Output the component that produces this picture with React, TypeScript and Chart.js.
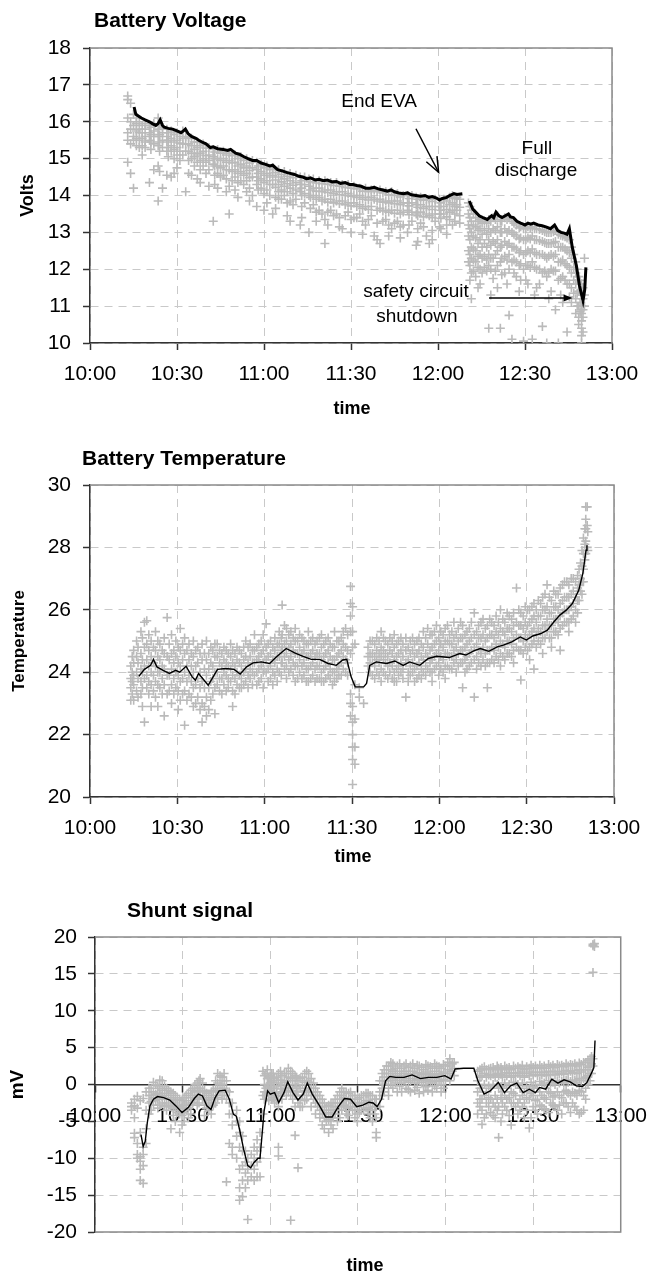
import { useEffect, useRef } from "react";
import { Chart, registerables } from "chart.js";

Chart.register(...registerables);

const FONT = '"Liberation Sans", Arial, Helvetica, sans-serif';

// x axis: minutes after 10:00
const timeLabels = ["10:00", "10:30", "11:00", "11:30", "12:00", "12:30", "13:00"];

// ---------- Battery voltage ----------
const voltLineT = [15.2, 15.8, 16.8, 17.7, 19, 20.5, 21.5, 22.7, 23.5, 24.2, 25, 25.6, 27, 28.5, 30, 31.4, 32.2, 32.9, 33.8, 35, 36.5, 37.5, 38.6, 40, 41.5, 42.5, 44, 45.9, 47.5, 48.5, 50.2, 51.5, 53.1, 54.5, 56, 57.5, 59, 60.3, 62, 63, 64.7, 66.5, 68, 69, 70.5, 72, 73.4, 74.8, 76, 77.7, 79, 80.5, 81.9, 83.5, 85, 86.4, 88, 89.5, 90.7, 92, 93.5, 95, 96.5, 98, 99.4, 101, 102.5, 103.8, 105, 106.5, 108.1, 109.5, 110.8, 112.4, 114, 115.5, 116.8, 118, 119.5, 120.5, 121.5, 123, 124, 125.5, 126.5, 128.4, 129.5, 130.8, 132, 133, 134.2, 135.5, 137, 138, 138.5, 139.2, 140, 141, 142.1, 143.2, 144.3, 145, 146, 147.2, 148.5, 150, 151, 152, 153, 154.5, 155.9, 157.2, 158.8, 159.5, 160.2, 161.3, 162.4, 163.5, 164.5, 165.3, 166.3, 167.7, 168.8, 170, 170.6, 171];
const voltLineV = [16.4, 16.2, 16.15, 16.1, 16.05, 16.0, 15.95, 15.9, 15.95, 16.05, 15.9, 15.85, 15.82, 15.8, 15.75, 15.7, 15.75, 15.8, 15.68, 15.6, 15.55, 15.5, 15.45, 15.4, 15.3, 15.32, 15.27, 15.25, 15.22, 15.25, 15.15, 15.12, 15.05, 15.0, 14.95, 14.95, 14.88, 14.85, 14.8, 14.82, 14.7, 14.66, 14.62, 14.6, 14.57, 14.52, 14.5, 14.45, 14.48, 14.42, 14.44, 14.4, 14.42, 14.37, 14.38, 14.33, 14.35, 14.3, 14.3, 14.27, 14.25, 14.2, 14.2, 14.22, 14.18, 14.15, 14.12, 14.15, 14.1, 14.07, 14.05, 14.07, 14.02, 14.0, 13.98, 14.0, 13.95, 13.97, 13.93, 13.88, 13.92, 13.95, 14.0, 14.05, 14.03, 14.05, null, 13.85, 13.63, 13.55, 13.45, 13.4, 13.35, 13.42, 13.45, 13.4, 13.55, 13.45, 13.4, 13.45, 13.5, 13.42, 13.4, 13.3, 13.25, 13.2, 13.25, 13.22, 13.25, 13.2, 13.18, 13.15, 13.1, 13.15, 13.2, 13.05, 13.0, 12.98, 12.95, 13.1, 12.6, 12.1, 11.55, 11.15, 11.45, 12.05];
// rows: [minute, readings...]
const voltCloud: number[][] = [
  [13, 16.7, 16.6, 16.1, 15.7, 15.5, 14.9], [14, 16.5, 16.0, 15.8, 15.4, 14.6], [15, 16.2, 15.9, 15.6, 15.5, 14.2],
  [17, 16.0, 15.8, 15.7, 15.5, 15.3], [19, 15.95, 15.8, 15.6, 15.45, 15.3], [20.5, 15.9, 15.7, 15.5, 14.35],
  [22, 15.95, 15.75, 15.6, 15.4, 14.7], [23.5, 16.1, 15.8, 15.6, 15.35, 14.8, 13.85], [25, 15.85, 15.7, 15.5, 15.3, 14.2],
  [26.5, 15.8, 15.6, 15.45, 15.2, 14.55], [28, 15.75, 15.55, 15.35, 15.2, 14.5], [30, 15.7, 15.5, 15.3, 15.1, 14.75],
  [32, 15.75, 15.55, 15.4, 15.1], [33, 15.6, 15.4, 15.2, 14.1], [35, 15.55, 15.35, 15.15, 15.0, 14.55],
  [37, 15.45, 15.3, 15.1, 14.9, 14.45], [39, 15.4, 15.2, 15.0, 14.8], [41, 15.3, 15.1, 14.95, 14.7, 14.25],
  [42.5, 15.25, 15.05, 14.85, 13.3], [44, 15.25, 15.0, 14.8, 14.6, 14.2], [46, 15.2, 15.0, 14.8, 14.55],
  [48, 15.15, 14.95, 14.7, 14.25, 13.5], [50, 15.1, 14.9, 14.7, 14.5, 14.15], [52, 15.05, 14.85, 14.65, 14.4],
  [54, 15.0, 14.8, 14.6, 14.4, 14.1], [56, 14.95, 14.75, 14.5, 14.0], [57.5, 14.9, 14.7, 14.5, 14.3, 13.7],
  [59, 14.85, 14.65, 14.45, 14.2], [61, 14.8, 14.6, 14.4, 14.15, 13.8], [63, 14.75, 14.55, 14.3, 13.5],
  [65, 14.7, 14.5, 14.3, 14.1, 13.9], [67, 14.65, 14.45, 14.25, 14.0], [69, 14.6, 14.4, 14.2, 13.85, 13.3],
  [71, 14.55, 14.35, 14.15, 13.9], [72.5, 14.5, 14.3, 14.1, 13.2], [74, 14.5, 14.3, 14.05, 13.8],
  [75.5, 14.45, 14.25, 14.0, 13.0], [77, 14.45, 14.2, 14.0, 13.75], [79, 14.4, 14.2, 13.95, 13.6],
  [81, 14.4, 14.15, 13.9, 13.35, 12.7], [83, 14.35, 14.15, 13.9, 13.6], [85, 14.35, 14.1, 13.85, 13.5],
  [87, 14.3, 14.1, 13.85, 13.1], [89, 14.3, 14.05, 13.8, 13.55], [91, 14.25, 14.0, 13.8, 13.4],
  [93, 14.2, 14.0, 13.75, 13.5], [95, 14.2, 13.95, 13.7, 13.2], [97, 14.15, 13.95, 13.7, 13.45],
  [98, 14.15, 13.9, 12.9], [100, 14.15, 13.9, 13.65, 12.7], [102, 14.1, 13.85, 13.6, 13.35],
  [104, 14.1, 13.85, 13.6, 13.1], [106, 14.05, 13.85, 13.6, 13.3], [108, 14.0, 13.8, 13.55, 13.2],
  [109.5, 14.0, 13.8, 13.6, 13.0], [111, 14.0, 13.8, 13.55, 13.3], [112.5, 13.95, 13.75, 13.5, 12.65],
  [114, 13.95, 13.75, 13.55, 13.25], [116, 13.9, 13.7, 13.5, 12.9], [117, 13.9, 13.7, 13.45, 12.7],
  [119, 13.9, 13.7, 13.5, 13.3], [120.5, 13.9, 13.7, 13.5, 13.15], [122, 13.9, 13.7, 13.5],
  [124, 13.95, 13.75, 13.55, 13.35], [125, 14.0, 13.8, 13.6, 13.2], [126.5, 13.95, 13.75, 13.6],
  [130.5, 13.8, 13.5, 13.2, 12.9, 12.5, 12.2], [131.5, 13.6, 13.3, 13.0, 12.6, 12.3, 11.9, 11.2],
  [133, 13.4, 13.15, 12.85, 12.5, 12.2, 11.8], [134.5, 13.35, 13.1, 12.8, 12.4, 12.0, 11.6],
  [136, 13.3, 13.05, 12.7, 12.35, 12.05], [137.5, 13.35, 13.1, 12.8, 12.4, 12.1, 10.4],
  [139, 13.4, 13.1, 12.75, 12.3, 11.75], [140.5, 13.45, 13.15, 12.8, 12.5, 12.1, 11.5],
  [141.5, 13.3, 13.0, 12.6, 12.2, 10.4], [143, 13.4, 13.1, 12.75, 12.35, 11.9],
  [144.5, 13.4, 13.05, 12.7, 12.4, 12.0, 10.75], [145.5, 13.3, 13.0, 12.6, 12.2, 10.1],
  [147, 13.2, 12.9, 12.55, 12.2, 11.8], [148.5, 13.15, 12.85, 12.5, 12.15, 11.7],
  [149.5, 13.1, 12.8, 12.4, 12.0, 10.05], [151, 13.15, 12.85, 12.5, 12.1, 11.6],
  [152.5, 13.15, 12.9, 12.55, 12.2, 10.1], [154, 13.1, 12.8, 12.4, 12.0, 11.5],
  [156, 13.05, 12.75, 12.4, 11.9, 10.45], [157.5, 13.0, 12.7, 12.3, 11.8, 10.0],
  [159, 13.0, 12.7, 12.4, 12.0, 11.4], [160.5, 13.05, 12.75, 12.4, 11.95, 10.9],
  [161.5, 12.95, 12.6, 12.2, 11.7, 10.0], [163, 12.9, 12.6, 12.25, 11.8, 11.1],
  [164.5, 12.85, 12.5, 12.1, 11.6, 10.3], [166, 12.6, 12.3, 11.9, 11.5, 11.1],
  [167.5, 12.2, 11.9, 11.6, 11.2, 10.8], [168.5, 11.8, 11.4, 11.0, 10.7, 10.5],
  [169.5, 11.6, 11.3, 11.0, 10.8, 10.6, 10.4, 10.2, 10.0], [170.5, 12.3, 11.3, 11.0],
];
const voltCloudFill: number[][] = [
  [16, 16.1, 15.95, 15.75, 15.55, 15.35], [18, 15.9, 15.7, 15.55, 15.35, 15.1], [21, 15.85, 15.65, 15.45, 15.25],
  [24, 15.9, 15.65, 15.45, 15.2, 14.65], [27, 15.7, 15.5, 15.3, 15.05], [29, 15.65, 15.45, 15.25, 15.0, 14.6],
  [31, 15.6, 15.42, 15.2, 14.95], [34, 15.58, 15.4, 15.2, 14.95, 14.6], [36, 15.45, 15.25, 15.05, 14.8],
  [38, 15.35, 15.15, 14.95, 14.7, 14.35], [40, 15.28, 15.08, 14.9, 14.6], [43, 15.18, 15.0, 14.8, 14.55, 14.3],
  [45, 15.15, 14.95, 14.75, 14.5], [47, 15.1, 14.9, 14.7, 14.45, 14.1], [49, 15.08, 14.88, 14.65, 14.4],
  [51, 15.0, 14.8, 14.6, 14.35, 13.95], [53, 14.95, 14.75, 14.55, 14.3], [55, 14.88, 14.68, 14.48, 14.2, 13.85],
  [58, 14.8, 14.6, 14.4, 14.15], [60, 14.75, 14.55, 14.35, 14.05, 13.6], [62, 14.7, 14.5, 14.3, 14.0],
  [64, 14.62, 14.42, 14.22, 13.95, 13.65], [66, 14.57, 14.37, 14.15, 13.9], [68, 14.52, 14.32, 14.1, 13.8, 13.45],
  [70, 14.48, 14.28, 14.05, 13.75], [73, 14.4, 14.2, 14.0, 13.7, 13.4], [76, 14.37, 14.15, 13.95, 13.65],
  [78, 14.34, 14.12, 13.9, 13.55, 13.3], [80, 14.32, 14.1, 13.85, 13.5], [82, 14.3, 14.08, 13.82, 13.55, 13.2],
  [84, 14.27, 14.05, 13.8, 13.45], [86, 14.25, 14.02, 13.78, 13.4, 13.15], [88, 14.22, 14.0, 13.75, 13.45],
  [90, 14.2, 13.98, 13.72, 13.35, 13.0], [92, 14.18, 13.95, 13.7, 13.4], [94, 14.12, 13.9, 13.65, 13.3, 12.95],
  [96, 14.1, 13.88, 13.62, 13.35], [99, 14.1, 13.85, 13.6, 13.25, 12.8], [101, 14.07, 13.82, 13.58, 13.3],
  [103, 14.02, 13.8, 13.55, 13.2, 12.9], [105, 14.0, 13.78, 13.52, 13.25], [107, 13.96, 13.75, 13.5, 13.15, 12.85],
  [110, 13.92, 13.72, 13.48, 13.2], [113, 13.9, 13.68, 13.45, 13.1, 12.75], [115, 13.87, 13.65, 13.42, 13.15],
  [118, 13.84, 13.62, 13.4, 13.05, 12.8], [121, 13.8, 13.6, 13.38, 13.1], [123, 13.85, 13.62, 13.42, 13.2, 12.95],
  [125.8, 13.92, 13.7, 13.5, 13.3], [127.5, 13.9, 13.68, 13.45, 13.25],
  [131, 13.7, 13.4, 13.1, 12.8, 12.4, 12.1, 11.7], [132.2, 13.5, 13.2, 12.9, 12.55, 12.25, 11.95],
  [133.8, 13.3, 13.05, 12.7, 12.35, 12.05, 11.5], [135.2, 13.25, 12.95, 12.6, 12.3, 11.9],
  [136.8, 13.25, 12.95, 12.6, 12.25, 11.95], [138.2, 13.3, 13.0, 12.65, 12.3, 12.0, 11.3],
  [139.8, 13.35, 13.05, 12.7, 12.4, 11.95], [142, 13.3, 13.0, 12.65, 12.3, 11.85],
  [143.8, 13.35, 13.0, 12.65, 12.25, 11.6], [146.2, 13.25, 12.95, 12.6, 12.25, 11.9],
  [148, 13.12, 12.82, 12.45, 12.1, 11.4], [150.3, 13.1, 12.8, 12.45, 12.1, 11.7],
  [151.8, 13.12, 12.82, 12.45, 12.05], [153.3, 13.1, 12.8, 12.45, 12.05, 11.3],
  [155, 13.08, 12.78, 12.4, 12.0, 11.6], [156.8, 13.02, 12.72, 12.35, 11.95],
  [158.2, 13.0, 12.7, 12.35, 11.9, 11.2], [159.8, 13.02, 12.72, 12.35, 11.95],
  [162.3, 12.92, 12.6, 12.2, 11.75, 11.3], [163.8, 12.88, 12.55, 12.15, 11.7],
  [165.3, 12.8, 12.45, 12.05, 11.6, 11.25], [166.8, 12.4, 12.05, 11.7, 11.35],
  [168, 12.0, 11.7, 11.35, 11.0], [169, 11.7, 11.4, 11.1, 10.85], [170, 11.5, 11.2, 10.9, 10.7, 10.3],
];

// ---------- Battery temperature ----------
const tempLineT = [16.8, 18.7, 20.8, 21.8, 23, 25.1, 27.3, 29.4, 30.8, 33, 35.1, 36.2, 37.3, 38.7, 40.6, 42.3, 43.8, 46.6, 49.5, 51.6, 53.8, 56, 58.8, 61.7, 63.8, 66, 67.4, 70.3, 73.2, 76, 78.9, 81.8, 84.6, 86.8, 88.2, 89.7, 91.1, 94, 95, 96.1, 98.3, 101.9, 104.7, 107.6, 109.8, 113.3, 116.2, 119.1, 123.4, 127, 129.1, 132, 134.1, 137, 139.9, 142, 144.9, 147.8, 149.9, 152.1, 154.9, 157.1, 159.3, 161.4, 163.6, 165.7, 167.9, 169.3, 170.4, 170.7];
const tempLineV = [23.87, 24.09, 24.22, 24.41, 24.17, 24.06, 23.96, 24.06, 24.0, 24.19, 23.85, 23.74, 23.96, 23.8, 23.58, 23.85, 24.09, 24.12, 24.09, 23.94, 24.17, 24.3, 24.33, 24.28, 24.47, 24.65, 24.76, 24.62, 24.51, 24.41, 24.41, 24.28, 24.22, 24.39, 24.41, 23.85, 23.53, 23.53, 23.64, 24.22, 24.33, 24.28, 24.36, 24.22, 24.33, 24.22, 24.44, 24.51, 24.47, 24.6, 24.55, 24.69, 24.76, 24.67, 24.81, 24.87, 24.97, 25.13, 25.03, 25.16, 25.24, 25.35, 25.61, 25.83, 25.99, 26.2, 26.63, 27.17, 27.91, 28.07];
const tempCloud: number[][] = [
  [14, 24.2, 23.8, 23.5, 23.1], [15, 24.7, 24.3, 23.9, 23.6, 23.1], [16, 25.0, 24.5, 24.0, 23.4],
  [17.5, 25.3, 24.6, 24.1, 23.7, 23.3], [18.7, 25.6, 24.8, 24.2, 23.8, 22.4], [19.5, 25.65, 24.9, 24.4, 23.9, 23.5],
  [21, 25.0, 24.5, 24.0, 23.6, 22.9], [22.5, 25.3, 24.7, 24.2, 23.7, 23.2], [24, 24.9, 24.4, 24.0, 23.5],
  [25.5, 25.1, 24.6, 24.1, 23.6, 22.6], [26.5, 25.75, 24.5, 23.9, 23.3], [28, 25.2, 24.6, 24.1, 23.6, 23.0],
  [29.5, 25.0, 24.5, 24.0, 23.5], [31, 25.4, 24.7, 24.2, 23.7, 23.1], [32.5, 25.1, 24.6, 24.0, 23.4, 22.3],
  [34, 24.9, 24.4, 23.9, 23.3], [35.5, 25.0, 24.5, 24.0, 23.5, 22.9], [37, 24.8, 24.3, 23.8, 23.2],
  [38.5, 24.9, 24.4, 23.7, 23.0, 22.4], [40, 25.0, 24.4, 23.9, 23.2, 22.6], [41.5, 24.8, 24.3, 23.7, 23.1],
  [42.9, 24.9, 24.5, 24.0, 23.5, 22.67], [44.5, 24.7, 24.3, 23.8, 23.4], [46, 24.8, 24.4, 24.0, 23.6],
  [47.5, 24.6, 24.2, 23.8, 23.5], [49, 24.7, 24.3, 23.9, 23.4, 22.9], [50.5, 24.8, 24.4, 24.0, 23.6],
  [52, 24.6, 24.2, 23.8, 23.5], [53.5, 25.0, 24.5, 24.1, 23.7], [55, 24.9, 24.5, 24.1, 23.8],
  [56.5, 25.2, 24.7, 24.3, 23.9], [58, 24.9, 24.5, 24.1, 23.7], [59.5, 25.2, 24.7, 24.3, 24.0, 23.5],
  [60.5, 25.55, 24.8, 24.4, 24.0], [62, 25.0, 24.6, 24.2, 23.8], [63.5, 25.1, 24.7, 24.3, 23.9],
  [65, 25.3, 24.9, 24.5, 24.0], [66, 26.15, 25.2, 24.8, 24.3], [67.5, 25.4, 25.0, 24.6, 24.2, 23.8],
  [69, 25.3, 24.9, 24.5, 24.1], [70.5, 25.4, 25.0, 24.6, 24.2, 23.7], [72, 25.2, 24.8, 24.4, 24.0],
  [73.5, 25.0, 24.7, 24.3, 23.9], [75, 25.3, 24.9, 24.5, 24.1, 23.7], [76.5, 25.1, 24.7, 24.3, 23.9],
  [78, 25.0, 24.6, 24.2, 23.8], [79.5, 25.2, 24.8, 24.4, 24.0, 23.7], [81, 25.0, 24.6, 24.2, 23.8],
  [82.5, 24.9, 24.5, 24.1, 23.8], [84, 25.3, 24.8, 24.4, 24.0, 23.7], [85.5, 25.0, 24.6, 24.2, 23.9],
  [87, 25.3, 24.9, 24.5, 24.1], [88.5, 25.2, 24.7, 24.3, 23.9],
  [89.5, 26.75, 26.2, 25.8, 25.3, 24.6, 23.3, 23.0, 22.6], [90.2, 26.1, 25.3, 24.8, 22.9, 22.4, 22.0, 21.6, 21.2, 20.4],
  [91, 24.9, 23.6, 22.5, 21.6, 21.05], [92.5, 23.5, 23.2], [94, 23.0],
  [95.5, 24.8, 24.5, 24.2], [97, 25.0, 24.6, 24.3, 23.9], [98.5, 25.1, 24.7, 24.4, 24.0],
  [100, 25.3, 24.8, 24.5, 24.1, 23.7], [101.5, 25.0, 24.6, 24.3, 23.9], [103, 25.1, 24.7, 24.3, 24.0],
  [104.5, 25.2, 24.8, 24.4, 24.0, 23.7], [106, 25.0, 24.6, 24.2, 23.9], [107.5, 24.9, 24.5, 24.1, 23.8],
  [108.5, 25.1, 24.7, 24.3, 23.2], [110, 25.0, 24.6, 24.2, 23.9], [111.5, 24.9, 24.5, 24.1, 23.7],
  [113, 25.1, 24.7, 24.3, 23.9], [114.5, 25.3, 24.8, 24.4, 24.0], [116, 25.4, 24.9, 24.5, 24.1],
  [117.5, 25.2, 24.8, 24.4, 24.0, 23.7], [119, 25.5, 25.0, 24.6, 24.2], [120.5, 25.3, 24.9, 24.5, 24.1],
  [122, 25.4, 25.0, 24.6, 24.2, 23.8], [123.5, 25.2, 24.9, 24.5, 24.1], [125, 25.6, 25.1, 24.7, 24.3],
  [126.5, 25.4, 25.0, 24.6, 24.2], [128, 25.5, 25.1, 24.7, 24.3, 23.5], [129.5, 25.3, 24.9, 24.5, 24.1],
  [131, 25.6, 25.1, 24.7, 24.3], [132, 25.9, 25.2, 24.8, 24.4, 23.2], [133.5, 25.5, 25.1, 24.7, 24.3],
  [135, 25.7, 25.2, 24.8, 24.4], [136.5, 25.5, 25.1, 24.7, 24.3, 23.5], [138, 25.6, 25.2, 24.8, 24.4],
  [139.5, 25.8, 25.3, 24.9, 24.5], [141, 26.0, 25.4, 25.0, 24.6, 24.2], [142.5, 25.6, 25.2, 24.8, 24.4],
  [144, 25.8, 25.4, 25.0, 24.6], [145.5, 25.9, 25.5, 25.1, 24.7, 24.3], [146.5, 26.7, 25.6, 25.2, 24.8],
  [148, 25.9, 25.5, 25.1, 24.7, 23.75], [149.5, 26.1, 25.6, 25.2, 24.8], [151, 26.0, 25.6, 25.2, 24.8, 24.4],
  [152.5, 26.2, 25.8, 25.4, 25.0, 24.1], [154, 26.3, 25.8, 25.4, 25.0], [155.5, 26.4, 26.0, 25.5, 25.1, 24.6],
  [157, 26.8, 26.1, 25.7, 25.3], [158.5, 26.3, 25.9, 25.5, 25.1, 24.8], [160, 26.5, 26.1, 25.7, 25.3],
  [161.5, 26.7, 26.2, 25.8, 25.4, 24.7], [163, 26.9, 26.4, 26.0, 25.6], [164.5, 26.8, 26.4, 26.0, 25.6, 25.3],
  [166, 27.0, 26.6, 26.2, 25.8], [167.5, 27.1, 26.7, 26.3, 25.9], [168.5, 27.5, 27.0, 26.6],
  [169.5, 28.3, 27.8, 27.3, 26.9], [170.3, 29.3, 28.9, 28.6, 28.2, 27.8], [170.8, 29.3, 28.7, 28.0],
];
const tempCloudFill: number[][] = [
  [14.5, 24.5, 24.0, 23.7, 23.3], [16.5, 24.8, 24.3, 23.8, 23.2], [18, 25.1, 24.4, 24.0, 23.5, 22.9],
  [20.2, 25.2, 24.7, 24.2, 23.7, 23.3], [21.8, 24.8, 24.3, 23.9, 23.4], [23.3, 25.0, 24.5, 24.0, 23.6, 22.9],
  [24.8, 24.7, 24.2, 23.8, 23.3], [27.2, 24.9, 24.4, 23.9, 23.4], [28.8, 24.7, 24.3, 23.8, 23.3],
  [30.3, 24.8, 24.3, 23.9, 23.4, 22.8], [31.8, 24.9, 24.4, 23.8, 23.3], [33.3, 24.7, 24.2, 23.7, 23.1],
  [34.8, 24.6, 24.2, 23.7, 23.2], [36.3, 24.7, 24.2, 23.6, 23.0], [37.8, 24.6, 24.0, 23.5, 22.8],
  [39.3, 24.6, 24.1, 23.5, 22.9], [40.8, 24.6, 24.1, 23.5, 22.8], [42.2, 24.7, 24.2, 23.8, 23.3],
  [43.7, 24.9, 24.5, 24.0, 23.6], [45.3, 24.6, 24.2, 23.8, 23.3], [46.8, 24.7, 24.3, 23.9, 23.4],
  [48.3, 24.9, 24.5, 24.1, 23.7], [49.8, 24.6, 24.2, 23.8, 23.3], [51.3, 24.7, 24.3, 23.9, 23.5],
  [52.8, 24.8, 24.4, 24.0, 23.6], [54.3, 24.8, 24.3, 23.9, 23.5], [55.8, 24.7, 24.3, 24.0, 23.6],
  [57.3, 24.8, 24.4, 24.0, 23.6], [58.8, 25.0, 24.6, 24.2, 23.8], [61.2, 24.9, 24.5, 24.1, 23.7],
  [62.8, 24.8, 24.4, 24.0, 23.6], [64.3, 24.9, 24.5, 24.1, 23.7], [65.7, 25.1, 24.7, 24.3, 23.9],
  [66.8, 25.5, 24.9, 24.5, 24.1], [68.3, 25.2, 24.8, 24.4, 24.0], [69.8, 25.1, 24.7, 24.3, 23.9],
  [71.3, 25.0, 24.6, 24.2, 23.8], [72.8, 25.1, 24.6, 24.2, 23.8], [74.3, 24.9, 24.5, 24.1, 23.7],
  [75.8, 25.0, 24.6, 24.2, 23.8], [77.3, 24.9, 24.5, 24.1, 23.7], [78.8, 25.1, 24.6, 24.2, 23.8],
  [80.3, 24.9, 24.5, 24.1, 23.7], [81.8, 25.1, 24.7, 24.3, 23.9], [83.3, 24.8, 24.4, 24.0, 23.6],
  [84.8, 25.0, 24.5, 24.1, 23.8], [86.3, 25.1, 24.7, 24.3, 23.9], [87.8, 25.4, 24.8, 24.4, 24.0],
  [96.2, 25.0, 24.6, 24.3, 24.0], [97.8, 24.9, 24.5, 24.2, 23.8], [99.3, 25.0, 24.6, 24.3, 23.9],
  [100.8, 25.1, 24.7, 24.4, 24.0], [102.3, 24.9, 24.5, 24.2, 23.8], [103.8, 25.0, 24.6, 24.2, 23.8],
  [105.3, 24.9, 24.5, 24.1, 23.7], [106.8, 25.1, 24.7, 24.3, 24.0], [109.3, 24.8, 24.4, 24.0, 23.7],
  [110.8, 25.1, 24.7, 24.3, 24.0], [112.3, 25.0, 24.6, 24.2, 23.8], [113.8, 24.9, 24.5, 24.1, 23.8],
  [115.3, 25.1, 24.6, 24.2, 23.9], [116.8, 25.2, 24.7, 24.3, 24.0], [118.3, 25.3, 24.9, 24.5, 24.1],
  [119.8, 25.1, 24.7, 24.3, 23.9], [121.3, 25.2, 24.8, 24.4, 24.0], [122.8, 25.5, 25.0, 24.6, 24.2],
  [124.3, 25.3, 24.9, 24.5, 24.1], [125.8, 25.2, 24.8, 24.4, 24.0], [127.3, 25.6, 25.1, 24.7, 24.3],
  [128.8, 25.2, 24.8, 24.4, 24.0], [130.3, 25.4, 25.0, 24.6, 24.2], [132.8, 25.3, 24.9, 24.5, 24.1],
  [134.3, 25.6, 25.1, 24.6, 24.2], [135.8, 25.4, 25.0, 24.6, 24.2], [137.3, 25.7, 25.2, 24.7, 24.3],
  [138.8, 25.5, 25.1, 24.7, 24.3], [140.3, 25.6, 25.2, 24.8, 24.4], [141.8, 25.7, 25.3, 24.9, 24.5],
  [143.3, 25.9, 25.4, 25.0, 24.6], [144.8, 25.7, 25.3, 24.9, 24.5], [147.3, 26.0, 25.5, 25.1, 24.7],
  [148.8, 25.8, 25.4, 25.0, 24.6], [150.3, 26.0, 25.5, 25.1, 24.7], [151.8, 26.1, 25.7, 25.3, 24.9],
  [153.3, 26.0, 25.6, 25.2, 24.8], [154.8, 26.2, 25.8, 25.3, 24.9], [156.3, 26.5, 26.0, 25.5, 25.1],
  [157.8, 26.4, 25.9, 25.5, 25.1], [159.3, 26.6, 26.1, 25.7, 25.3], [160.8, 26.5, 26.0, 25.6, 25.2],
  [162.3, 26.8, 26.3, 25.9, 25.5], [163.8, 26.9, 26.4, 26.0, 25.6], [165.3, 27.0, 26.5, 26.1, 25.7],
  [166.8, 26.9, 26.4, 26.0, 25.6], [168, 27.3, 26.8, 26.3], [169, 27.9, 27.4, 26.9, 26.5],
  [170, 28.6, 28.1, 27.6], [171, 28.5, 27.9],
];

// ---------- Shunt signal ----------
const shuntLineT = [15.75, 16.5, 17.2, 17.9, 18.8, 20, 21.4, 23.5, 25.6, 27.7, 29.8, 32, 34, 35.4, 36.8, 38.3, 39.7, 41.1, 42.5, 44.6, 46, 47.4, 48.4, 49.5, 50.9, 52.3, 53.3, 54.4, 55.8, 56.5, 57.9, 59.1, 60, 61.5, 62.9, 64.7, 66, 67.8, 69.5, 71.3, 72.7, 74.4, 76.9, 79, 81.2, 83.3, 85.4, 87.5, 89.6, 91.7, 93.8, 95.2, 96.6, 98.1, 99.5, 100.9, 103, 105.8, 108.6, 111.4, 114.2, 117, 119.8, 121.9, 123.3, 126.2, 129.7, 131.1, 133.2, 135.3, 138.1, 140.2, 142.3, 144.4, 146.6, 148.7, 150.8, 152.2, 154.3, 156.4, 158.5, 160.6, 162.7, 164.8, 166.9, 168.4, 170.1, 170.8, 171.2];
const shuntLineV = [-6.79, -8.4, -7.7, -5.2, -2.9, -2.0, -1.64, -1.78, -2.1, -2.9, -3.8, -3.1, -1.9, -1.3, -1.55, -2.9, -3.4, -1.8, -0.87, -0.77, -2.0, -4.05, -4.3, -6.1, -8.8, -11.0, -11.3, -10.6, -10.0, -10.0, -3.6, -0.87, -1.3, -1.1, -2.45, -1.1, 0.36, -1.1, -2.1, -1.3, 0.18, -1.3, -2.9, -4.4, -4.4, -3.0, -1.9, -2.0, -3.0, -2.8, -2.4, -2.5, -3.0, -2.0, 0.5, 1.1, 0.96, 0.96, 1.3, 0.8, 0.96, 0.96, 1.2, 0.73, 2.1, 2.2, 2.2, 0.5, -1.3, -0.87, 0.27, -1.1, -0.18, 0.18, -1.1, -0.64, -1.1, -0.4, -0.64, 0.73, 0.18, 0.64, 0.36, -0.18, -0.27, 0.27, 1.64, 2.3, 5.97];
const shuntCloud: number[][] = [
  [12.5, -2.5, -3.0, -3.5], [13.5, -2.0, -2.9, -4.5, -6.6, -7.2], [14.5, -1.6, -3.2, -8.0, -9.5, -10.0],
  [15.5, -2.2, -6.5, -9.8, -10.4, -11.5, -13.0], [16.5, -1.9, -8.5, -9.5, -11.0, -13.4], [17.5, -1.0, -3.5, -6.0, -8.0],
  [18.5, -0.5, -1.5, -2.5, -4.0], [20, 0.3, -1.0, -1.8, -2.8], [21.5, -0.2, -1.2, -2.0, -3.2],
  [23, 0.5, -0.8, -1.6, -2.5], [24.5, -0.5, -1.5, -2.5, -3.5], [26, -1.0, -2.0, -3.0, -6.0],
  [27.5, -1.5, -2.5, -3.5, -5.0], [29, -2.0, -3.0, -4.0, -6.5], [30.5, -1.8, -2.8, -3.8, -5.0],
  [32, -1.2, -2.2, -3.2, -4.5], [33.5, -0.5, -1.5, -2.5], [35, 0.2, -0.8, -1.8, -2.8],
  [36, 0.8, -0.5, -1.5], [37.5, -0.8, -1.8, -2.8, -4.2], [39, -1.5, -2.5, -3.5],
  [40.5, -0.8, -1.8, -2.8], [42, 1.5, 0.2, -0.8, -1.8], [43.5, 1.0, 0.0, -1.0, -2.0],
  [45, 0.5, -0.8, -2.0, -13.2], [46, -1.0, -2.5, -4.0, -8.0], [47, -2.5, -4.0, -5.5, -8.5, -9.5],
  [48.5, -3.5, -5.0, -7.0, -10.0], [49.5, -5.0, -6.5, -8.5, -11.5, -14.0, -15.7], [50.5, -7.0, -9.0, -11.0, -13.0, -15.2],
  [51.5, -9.0, -10.5, -12.0, -14.0], [52.3, -10.0, -11.5, -13.0, -18.3], [53.5, -9.5, -11.0, -12.5],
  [54.5, -8.5, -10.0, -11.5, -13.0], [55.5, -7.5, -9.0, -10.5, -12.5], [56.5, -6.5, -8.5, -10.0, -12.5],
  [57.5, 1.8, -1.5, -4.0], [58.5, 1.5, -0.5, -1.5], [59.5, 1.0, 0.0, -1.2, -2.2],
  [60.5, 1.5, 0.3, -1.0, -2.0], [61.5, 0.8, -0.5, -1.5, -2.5], [62.8, 1.5, 0.2, -1.5, -3.0, -8.5, -9.7],
  [64, 1.2, 0.0, -1.0, -2.0], [65.5, 1.5, 0.5, -0.5, -1.5], [67, 1.8, 0.8, -0.5, -1.5, -18.4],
  [68.5, 1.2, 0.0, -1.5, -3.0, -6.9], [69.5, 0.5, -1.0, -2.5, -11.3], [71, 1.0, 0.0, -1.5, -3.0],
  [72.5, 1.8, 0.5, -1.0, -2.0], [74, 0.8, -0.5, -1.5, -3.0], [75.5, -0.5, -1.5, -2.5, -4.0],
  [77, -1.5, -2.5, -3.5, -4.5], [78.5, -2.5, -3.5, -4.5, -6.0], [80, -2.8, -3.8, -4.8, -6.5],
  [81.5, -2.5, -3.5, -4.5, -6.0], [83, -1.5, -2.5, -3.5, -5.0], [84.5, -0.5, -1.5, -2.5, -3.5],
  [86, -1.0, -2.0, -3.0, -4.0], [87.5, -1.0, -2.0, -3.0], [89, -1.5, -2.5, -3.5, -4.5],
  [90.5, -1.8, -2.8, -3.8], [92, -1.5, -2.5, -3.5], [93.5, -1.2, -2.2, -3.2, -4.0],
  [95, -1.5, -2.5, -3.5, -5.0], [96.3, -2.0, -3.0, -4.5, -6.5, -7.2], [97.5, 0.5, -1.0, -2.0, -3.0],
  [99, 2.0, 1.0, 0.0, -1.0], [100.5, 2.5, 1.5, 0.5, -0.5, -1.5], [102, 2.8, 1.8, 0.8, -0.5],
  [103.5, 2.5, 1.5, 0.5, -1.0], [105, 2.2, 1.2, 0.2, -1.0], [106.5, 2.8, 1.8, 0.8, -0.5],
  [108, 2.5, 1.5, 0.5, -1.0], [109.5, 2.2, 1.2, 0.2, -0.8], [111, 2.5, 1.5, 0.5, -1.2],
  [112.5, 2.0, 1.0, 0.0, -1.0], [114, 2.5, 1.5, 0.5, -0.8], [115.5, 2.2, 1.2, 0.2, -1.0],
  [117, 2.5, 1.5, 0.5, -0.5], [118.5, 2.2, 1.2, 0.0, -1.0], [120, 2.5, 1.5, 0.5],
  [121.5, 3.5, 2.5, 1.5, 0.5], [123, 3.0, 2.2, 1.2],
  [131, 1.8, 0.5, -1.0, -2.5, -4.0], [132.5, 2.2, 1.2, -0.5, -2.0, -3.5, -5.4], [134, 2.0, 1.0, -1.0, -2.5, -4.0],
  [135.5, 2.2, 1.2, -0.5, -2.0, -3.8], [137, 2.0, 1.0, -1.5, -3.0, -4.5], [138.2, 2.2, 1.2, -0.5, -3.0, -7.2],
  [139.5, 2.0, 1.0, -1.0, -2.5, -4.0], [141, 2.2, 1.2, -0.5, -2.0, -3.5], [142.5, 2.0, 1.0, -1.0, -2.5, -5.5],
  [144, 2.2, 1.2, 0.0, -1.5, -3.0], [145.5, 2.2, 1.2, -0.5, -2.0, -3.5], [147, 2.0, 1.0, -1.0, -2.5, -4.5],
  [148.7, 2.2, 1.2, -0.5, -2.0, -5.9], [150, 2.3, 1.3, -0.3, -1.5, -3.0], [151.5, 2.2, 1.2, -0.5, -2.0, -4.0],
  [153, 2.3, 1.3, 0.0, -1.5, -3.0], [154.5, 2.2, 1.2, -0.5, -2.0, -3.5], [156, 2.4, 1.4, 0.2, -1.2, -2.5],
  [157.5, 2.3, 1.3, 0.0, -1.5, -3.0], [159, 2.5, 1.5, 0.2, -1.5, -2.8], [160.5, 2.4, 1.4, 0.2, -1.0, -2.5],
  [162, 2.5, 1.5, 0.3, -1.2, -3.0], [163.5, 2.6, 1.6, 0.4, -1.0, -2.5], [165, 2.5, 1.5, 0.2, -1.5, -3.5],
  [166.5, 2.7, 1.7, 0.5, -1.0, -3.8], [168, 3.0, 2.0, 1.0, -0.5, -2.0], [169.5, 3.5, 2.5, 1.5, 0.5],
  [170.5, 19.0, 18.8, 15.2, 3.5, 2.5], [171, 19.1, 18.7],
];
const shuntCloudFill: number[][] = [
  [19.2, -0.5, -1.5, -2.3, -3.5], [20.8, 0.0, -1.3, -2.2], [22.2, 0.6, -0.5, -1.5, -2.8],
  [23.8, -0.2, -1.2, -2.0, -3.0], [25.2, -0.8, -1.8, -2.8], [26.8, -1.2, -2.2, -3.2, -4.2],
  [28.2, -1.8, -2.8, -3.8], [29.8, -2.2, -3.2, -4.2, -5.5], [31.2, -1.5, -2.5, -3.5],
  [32.8, -0.8, -1.8, -2.8, -4.0], [34.2, 0.0, -1.0, -2.0], [35.6, 0.5, -0.5, -1.5, -2.5],
  [36.8, 0.2, -1.0, -2.0], [38.2, -1.2, -2.2, -3.2], [39.8, -1.0, -2.0, -3.0, -4.0],
  [41.3, 0.5, -0.5, -1.5, -2.5], [42.8, 1.2, 0.0, -1.0], [44.2, 1.5, 0.5, -0.5, -1.5],
  [58, 1.2, 0.0, -1.0, -2.0], [59, 2.0, 0.8, -0.3], [60, 1.2, 0.2, -0.8],
  [61, 1.5, 0.5, -0.5, -1.8], [62.2, 1.0, -0.2, -1.2, -2.2], [63.5, 1.8, 0.6, -0.6, -1.6],
  [64.8, 1.5, 0.3, -0.8], [66.2, 2.2, 1.0, 0.0, -1.0], [67.7, 1.5, 0.5, -0.8, -2.0],
  [69, 1.0, -0.3, -1.5], [70.2, 0.8, -0.5, -2.0, -3.0], [71.8, 1.5, 0.3, -0.8, -2.2],
  [73.2, 1.5, 0.3, -1.0], [74.8, 0.2, -1.0, -2.0], [76.2, -1.0, -2.0, -3.0],
  [77.8, -2.0, -3.0, -4.0, -5.5], [79.2, -3.0, -4.0, -5.0], [80.8, -2.5, -3.5, -4.5, -5.5],
  [82.2, -2.0, -3.0, -4.0], [83.8, -1.0, -2.0, -3.0, -4.5], [85.2, -1.0, -1.8, -2.8],
  [86.8, -1.2, -2.2, -3.2, -4.2], [88.2, -1.5, -2.5, -3.5], [89.8, -2.0, -3.0, -4.0, -5.0],
  [91.2, -1.5, -2.5, -3.5], [92.8, -1.2, -2.2, -3.2], [94.2, -1.5, -2.5, -3.5, -4.5],
  [95.8, -2.0, -3.0, -4.0], [98.3, 1.5, 0.5, -0.5, -1.5],
  [99.8, 2.5, 1.5, 0.5], [101.3, 3.0, 2.0, 1.0, 0.0], [102.8, 2.2, 1.2, 0.2],
  [104.3, 2.8, 1.8, 0.8, -0.2], [105.8, 2.5, 1.5, 0.5], [107.3, 2.3, 1.3, 0.3, -0.7],
  [108.8, 2.8, 1.8, 0.8], [110.3, 2.6, 1.6, 0.6, -0.4], [111.8, 2.3, 1.3, 0.3],
  [113.3, 2.7, 1.7, 0.7, -0.3], [114.8, 2.4, 1.4, 0.4], [116.3, 2.8, 1.8, 0.8, -0.2],
  [117.8, 2.4, 1.4, 0.4], [119.3, 2.7, 1.7, 0.7, -0.5], [120.8, 3.0, 2.0, 1.0], [122.3, 2.8, 1.8],
  [131.8, 2.0, 1.0, -0.5, -2.0, -3.0], [133.3, 2.4, 1.5, 0.0, -1.5, -4.5], [134.8, 2.1, 1.3, -0.2, -1.8, -3.0],
  [136.3, 2.3, 1.4, 0.0, -2.5, -4.2], [137.7, 2.5, 1.5, 0.0, -2.0, -3.5], [139, 2.3, 1.4, -0.3, -1.8, -5.0],
  [140.3, 2.5, 1.6, 0.2, -1.5, -3.0], [141.8, 2.3, 1.5, 0.0, -1.8, -4.2], [143.3, 2.5, 1.6, 0.3, -1.2, -2.5],
  [144.8, 2.4, 1.5, 0.0, -2.5, -4.0], [146.3, 2.6, 1.7, 0.2, -1.5, -3.0], [147.8, 2.4, 1.5, -0.2, -1.8, -3.5],
  [149.3, 2.6, 1.7, 0.3, -1.2, -4.5], [150.8, 2.5, 1.6, 0.0, -2.2, -3.5], [152.3, 2.6, 1.7, 0.4, -1.0, -2.8],
  [153.8, 2.5, 1.6, 0.2, -1.8, -3.3], [155.3, 2.7, 1.8, 0.5, -1.0, -3.8], [156.8, 2.6, 1.7, 0.3, -1.7, -2.8],
  [158.3, 2.7, 1.8, 0.5, -1.0, -3.5], [159.8, 2.6, 1.7, 0.4, -1.8, -4.0], [161.3, 2.8, 1.9, 0.6, -0.8, -2.5],
  [162.8, 2.7, 1.8, 0.4, -1.5, -3.8], [164.3, 2.8, 1.9, 0.6, -1.2, -3.0], [165.8, 2.9, 2.0, 0.8, -0.8, -4.0],
  [167.3, 3.0, 2.0, 0.8, -1.5, -3.5], [168.8, 3.3, 2.3, 1.2, 0.0], [170, 3.8, 2.8, 1.5],
];

// annotation anchors (data coordinates: minute, volts)
const voltTexts = [
  { text: "End EVA", t: 99.7, v: 16.54 },
  { text: "Full", t: 154.1, v: 15.27 },
  { text: "discharge", t: 153.8, v: 14.68 },
  { text: "safety circuit", t: 112.4, v: 11.38 },
  { text: "shutdown", t: 112.7, v: 10.7 },
];
const evaArrow = { t1: 112.4, v1: 15.81, t2: 120.2, v2: 14.63 };
const shutdownArrow = { t1: 137.6, v1: 11.22, t2: 166.4, v2: 11.22 };

type Panel = {
  key: string;
  top: number;
  height: number;
  area: { left: number; right: number; top: number; bottom: number };
  yMin: number;
  yMax: number;
  yStep: number;
  zeroAxis: boolean;
  title: string;
  titleX: number;
  titleY: number;
  yTitle: string;
  yTitleX: number;
  yTitleSize: number;
  xTitleX: number;
  xTitleY: number;
  lineT: number[];
  lineV: (number | null)[];
  cloud: number[][];
  lineWidth: number;
  annotate: boolean;
};

const panels: Panel[] = [
  {
    key: "volt", top: 0, height: 430,
    area: { left: 90, right: 612, top: 48, bottom: 343 },
    yMin: 10, yMax: 18, yStep: 1, zeroAxis: false,
    title: "Battery Voltage", titleX: 94, titleY: 27,
    yTitle: "Volts", yTitleX: 28, yTitleSize: 18,
    xTitleX: 352, xTitleY: 409,
    lineT: voltLineT, lineV: voltLineV, cloud: [...voltCloud, ...voltCloudFill], lineWidth: 3, annotate: true,
  },
  {
    key: "temp", top: 430, height: 440,
    area: { left: 90, right: 614, top: 55, bottom: 367 },
    yMin: 20, yMax: 30, yStep: 2, zeroAxis: false,
    title: "Battery Temperature", titleX: 82, titleY: 35,
    yTitle: "Temperature", yTitleX: 19, yTitleSize: 17,
    xTitleX: 353, xTitleY: 427,
    lineT: tempLineT, lineV: tempLineV, cloud: [...tempCloud, ...tempCloudFill], lineWidth: 1.4, annotate: false,
  },
  {
    key: "shunt", top: 870, height: 405,
    area: { left: 95, right: 634, top: 67, bottom: 362 },
    yMin: -20, yMax: 20, yStep: 5, zeroAxis: true,
    title: "Shunt signal", titleX: 127, titleY: 47,
    yTitle: "mV", yTitleX: 18, yTitleSize: 19,
    xTitleX: 365, xTitleY: 396,
    lineT: shuntLineT, lineV: shuntLineV, cloud: [...shuntCloud, ...shuntCloudFill], lineWidth: 1.4, annotate: false,
  },
];

const Y_AXIS_W = 60;
const X_AXIS_H = 40;

function drawArrowHead(ctx: CanvasRenderingContext2D, x1: number, y1: number, x2: number, y2: number, len: number, half: number, filled: boolean) {
  const a = Math.atan2(y2 - y1, x2 - x1);
  const bx = x2 - len * Math.cos(a);
  const by = y2 - len * Math.sin(a);
  const px = -Math.sin(a) * half;
  const py = Math.cos(a) * half;
  ctx.beginPath();
  ctx.moveTo(bx + px, by + py);
  ctx.lineTo(x2, y2);
  ctx.lineTo(bx - px, by - py);
  if (filled) {
    ctx.closePath();
    ctx.fill();
  } else {
    ctx.stroke();
  }
}

function PanelChart({ p }: { p: Panel }) {
  const ref = useRef<HTMLCanvasElement | null>(null);
  useEffect(() => {
    if (!ref.current) return;
    const cloudPts = p.cloud.flatMap(([t, ...vs]) => vs.map((v) => ({ x: t, y: v })));
    const linePts = p.lineT.map((t, i) => ({ x: t, y: p.lineV[i] }));

    const axisDark = "#333333";
    const gridCol = "#c9c9c9";

    const decor = {
      id: "decor_" + p.key,
      beforeDatasetsDraw(chart: any) {
        const { ctx, chartArea: ca } = chart;
        ctx.save();
        ctx.strokeStyle = "#8a8a8a";
        ctx.lineWidth = 1.5;
        ctx.beginPath();
        ctx.moveTo(ca.left, ca.top);
        ctx.lineTo(ca.right, ca.top);
        ctx.lineTo(ca.right, ca.bottom);
        if (p.zeroAxis) ctx.lineTo(ca.left, ca.bottom);
        ctx.stroke();
        ctx.restore();
      },
      afterDraw(chart: any) {
        const { ctx, chartArea: ca } = chart;
        ctx.save();
        ctx.fillStyle = "#000";
        ctx.font = `bold 21px ${FONT}`;
        ctx.textAlign = "left";
        ctx.textBaseline = "alphabetic";
        ctx.fillText(p.title, p.titleX, p.titleY);

        ctx.font = `bold 18px ${FONT}`;
        ctx.textAlign = "center";
        ctx.textBaseline = "middle";
        ctx.fillText("time", p.xTitleX, p.xTitleY);

        ctx.save();
        ctx.translate(p.yTitleX, (ca.top + ca.bottom) / 2);
        ctx.rotate(-Math.PI / 2);
        ctx.font = `bold ${p.yTitleSize}px ${FONT}`;
        ctx.fillText(p.yTitle, 0, 0);
        ctx.restore();

        if (p.annotate) {
          const xs = chart.scales.x;
          const ys = chart.scales.y;
          ctx.font = `19px ${FONT}`;
          ctx.fillStyle = "#000";
          for (const n of voltTexts) {
            ctx.fillText(n.text, xs.getPixelForValue(n.t), ys.getPixelForValue(n.v));
          }
          ctx.strokeStyle = "#000";
          ctx.lineWidth = 1.5;
          const ax1 = xs.getPixelForValue(evaArrow.t1), ay1 = ys.getPixelForValue(evaArrow.v1);
          const ax2 = xs.getPixelForValue(evaArrow.t2), ay2 = ys.getPixelForValue(evaArrow.v2);
          ctx.beginPath();
          ctx.moveTo(ax1, ay1);
          ctx.lineTo(ax2, ay2);
          ctx.stroke();
          drawArrowHead(ctx, ax1, ay1, ax2, ay2, 15, 6, false);
          const bx1 = xs.getPixelForValue(shutdownArrow.t1), by1 = ys.getPixelForValue(shutdownArrow.v1);
          const bx2 = xs.getPixelForValue(shutdownArrow.t2), by2 = ys.getPixelForValue(shutdownArrow.v2);
          ctx.beginPath();
          ctx.moveTo(bx1, by1);
          ctx.lineTo(bx2 - 6, by2);
          ctx.stroke();
          drawArrowHead(ctx, bx1, by1, bx2, by2, 9, 3.5, true);
        }
        ctx.restore();
      },
    };

    const tickFont = { size: 21, family: FONT };
    const chart = new Chart(ref.current, {
      type: "scatter",
      data: {
        datasets: [
          {
            data: linePts as any,
            showLine: true,
            borderColor: "#000",
            borderWidth: p.lineWidth,
            pointRadius: 0,
            spanGaps: false,
            tension: 0,
          } as any,
          {
            data: cloudPts,
            showLine: false,
            pointStyle: "cross",
            pointRadius: 4.5,
            pointBorderWidth: 1.6,
            pointBorderColor: "#bababa",
            pointBackgroundColor: "#bababa",
          } as any,
        ],
      },
      options: {
        responsive: false,
        animation: false,
        devicePixelRatio: 1,
        events: [],
        layout: {
          padding: {
            left: p.area.left - Y_AXIS_W,
            right: 659 - p.area.right,
            top: p.area.top,
            bottom: p.zeroAxis ? p.height - p.area.bottom : p.height - p.area.bottom - X_AXIS_H,
          },
        },
        plugins: { legend: { display: false }, tooltip: { enabled: false }, title: { display: false } },
        scales: {
          x: {
            type: "linear",
            min: 0,
            max: 180,
            position: p.zeroAxis ? ({ y: 0 } as any) : "bottom",
            afterFit: p.zeroAxis ? undefined : (s: any) => { s.height = X_AXIS_H; },
            ticks: {
              stepSize: 30,
              autoSkip: false,
              maxRotation: 0,
              minRotation: 0,
              padding: 12,
              color: "#000",
              font: tickFont,
              callback: (v: any) => timeLabels[Math.round(Number(v) / 30)] ?? "",
            },
            grid: { color: gridCol, lineWidth: 1, drawTicks: true, tickLength: 7, tickColor: axisDark, tickWidth: 1.5, tickBorderDash: [] },
            border: { display: true, color: axisDark, width: 1.5, dash: [8, 6] },
          },
          y: {
            type: "linear",
            min: p.yMin,
            max: p.yMax,
            afterFit: (s: any) => { s.width = Y_AXIS_W; },
            ticks: { stepSize: p.yStep, padding: p.zeroAxis ? 11 : 12, color: "#000", font: tickFont },
            grid: { color: gridCol, lineWidth: 1, drawTicks: true, tickLength: 7, tickColor: axisDark, tickWidth: 1.5, tickBorderDash: [] },
            border: { display: true, color: axisDark, width: 1.5, dash: [8, 6] },
          },
        },
      } as any,
      plugins: [decor],
    });
    return () => chart.destroy();
  }, [p]);

  return (
    <canvas
      ref={ref}
      width={659}
      height={p.height}
      style={{ position: "absolute", left: 0, top: p.top, width: 659, height: p.height, display: "block" }}
    />
  );
}

export default function App() {
  return (
    <div style={{ position: "absolute", left: 0, top: 0, width: 659, height: 1275, background: "#fff", overflow: "hidden" }}>
      {panels.map((p) => (
        <PanelChart key={p.key} p={p} />
      ))}
    </div>
  );
}
